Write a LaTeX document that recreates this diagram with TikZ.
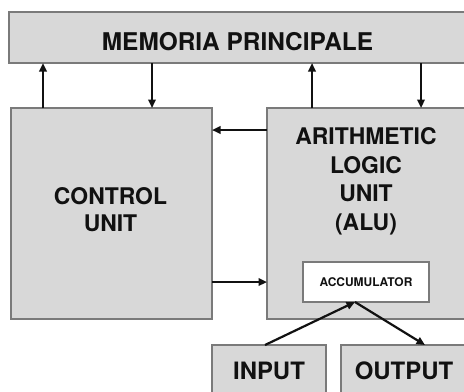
\documentclass[tikz,border=0pt]{standalone}
\usepackage{fontspec}
\setmainfont{TeX Gyre Heros}
\usetikzlibrary{arrows.meta}
\definecolor{boxfill}{HTML}{D8D8D8}
\definecolor{boxline}{HTML}{7A7A7A}
\definecolor{ink}{HTML}{111111}
\begin{document}
\begin{tikzpicture}[x=1bp,y=-1bp,
  box/.style={draw=boxline, fill=boxfill, line width=1.3bp, inner sep=0, outer sep=0, anchor=north west},
  lbl/.style={font=\bfseries\fontsize{23}{29}\selectfont, align=center, inner sep=0, text=ink},
  arr/.style={draw=ink, line width=2.2bp, -{Triangle[length=8.5bp,width=7.5bp]}}]
\useasboundingbox (0,0) rectangle (464,391);
\clip (0,0) rectangle (464,391);
\fill[white] (0,0) rectangle (464,391);
% boxes
\node[box, minimum width=460bp, minimum height=51bp] (mem) at (9,12) {};
\node[box, minimum width=201bp, minimum height=211bp] (cu) at (11,108) {};
\node[box, minimum width=203bp, minimum height=211bp] (alu) at (267,108) {};
\node[box, fill=white, minimum width=126bp, minimum height=40bp] (acc) at (303,262) {};
\node[box, minimum width=114bp, minimum height=50bp] (in) at (212,345) {};
\node[box, minimum width=129bp, minimum height=50bp] (out) at (341,345) {};
% texts
\node[lbl, font=\bfseries\fontsize{24.5}{29}\selectfont, anchor=base] (memt) at (237.5,50) {MEMORIA PRINCIPALE};
\node[lbl, font=\bfseries\fontsize{23}{27}\selectfont, anchor=north] (cut) at (110.5,187) {CONTROL\\UNIT};
\node[lbl, anchor=north] (alut) at (366,127) {ARITHMETIC\\LOGIC\\UNIT\\(ALU)};
\node[lbl, font=\bfseries\fontsize{12}{14}\selectfont] (acct) at (366,282) {ACCUMULATOR};
\node[lbl, font=\bfseries\fontsize{24}{29}\selectfont] (int) at (269,371) {INPUT};
\node[lbl, font=\bfseries\fontsize{24}{29}\selectfont] (outt) at (404,371) {OUTPUT};
% connectors
\draw[arr] (cu.north -| 43,0) -- (mem.south -| 43,0);
\draw[arr] (mem.south -| 152,0) -- (cu.north -| 152,0);
\draw[arr] (alu.north -| 312,0) -- (mem.south -| 312,0);
\draw[arr] (mem.south -| 421,0) -- (alu.north -| 421,0);
\draw[arr] (alu.west |- 0,130) -- (cu.east |- 0,130);
\draw[arr] (cu.east |- 0,282) -- (alu.west |- 0,282);
\draw[arr] (in.north -| 265,0) -- (acc.south -| 355,0);
\draw[arr] (acc.south -| 355,0) -- (out.north -| 425,0);
\end{tikzpicture}
\end{document}
